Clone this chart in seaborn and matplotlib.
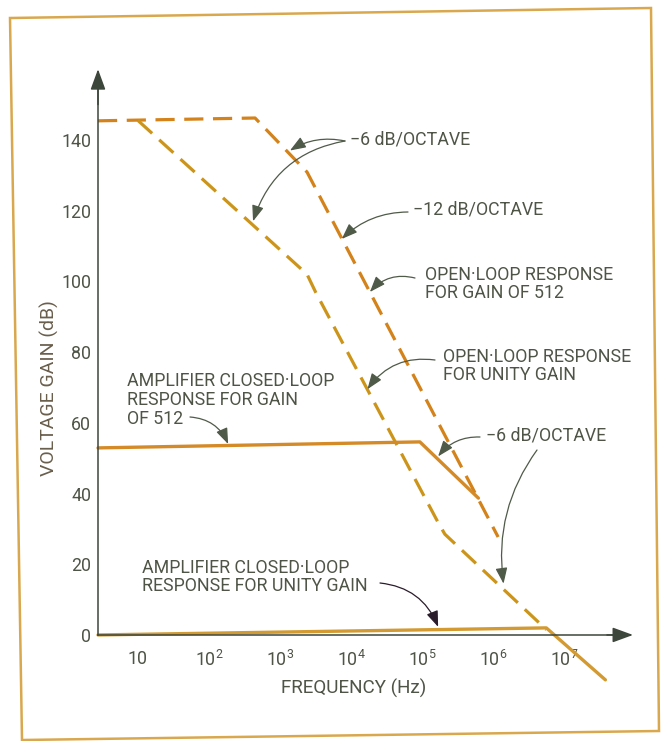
import numpy as np
import pandas as pd
import matplotlib.pyplot as plt
import seaborn as sns
from matplotlib.patches import Polygon

# open-loop response for gain of 512 (upper dashed)
ol512_freq = [2.74, 445, 2400, 1.175e6]
ol512_db = [145.4, 146.2, 130.9, 27.7]

# open-loop response for unity gain (lower dashed)
olu_freq = [10, 2400, 3160, 1.66e5, 2.09e5, 5.62e6]
olu_db = [145.5, 102.0, 97.0, 32.0, 28.5, 1.5]

# amplifier closed-loop response for gain of 512
cl512_freq = [2.74, 9.3e4, 6.2e5]
cl512_db = [52.9, 54.6, 38.7]

# amplifier closed-loop response for unity gain
clu_freq = [2.74, 5.6e6, 3.8e7]
clu_db = [0.0, 2.0, -12.7]

y_ticks = [0, 20, 40, 60, 80, 100, 120, 140]
x_ticks = [10, 1e2, 1e3, 1e4, 1e5, 1e6, 1e7]
x_labels = ['10', r'$\mathregular{10^{2}}$', r'$\mathregular{10^{3}}$', r'$\mathregular{10^{4}}$',
            r'$\mathregular{10^{5}}$', r'$\mathregular{10^{6}}$', r'$\mathregular{10^{7}}$']

sns.set_style('white')
plt.rcParams['font.family'] = ['Roboto', 'DejaVu Sans']
plt.rcParams['font.size'] = 12

W, H = 664, 741
text_c = '#4e5446'
axis_c = '#3d463a'
arrow_c = '#4f5a48'
fs = 12.8


def fpos(px, py):
    return (px / W, 1 - py / H)


fig = plt.figure(figsize=(W / 100, H / 100), dpi=100)
fig.patch.set_facecolor('white')

# gold frame of the printed figure
fig.add_artist(Polygon([fpos(10, 18), fpos(651, 8), fpos(659, 731), fpos(22, 740)],
                       closed=True, fill=False, edgecolor='#d9a84e', lw=1.8,
                       transform=fig.transFigure))

ax = fig.add_axes([98 / W, 1 - 688 / H, (633 - 98) / W, (688 - 69.2) / H])
ax.set_facecolor('none')

x0, x1 = 2.74, 9.3e7
ax.set_xscale('log')
ax.set_xlim(x0, x1)
ax.set_ylim(-15, 160)

dash = (0, (6, 3))
sns.lineplot(x=ol512_freq, y=ol512_db, ax=ax, color='#d4821a', lw=2.3, linestyle=dash,
             sort=False, estimator=None, clip_on=False)
sns.lineplot(x=olu_freq, y=olu_db, ax=ax, color='#cc951a', lw=2.3, linestyle=dash,
             sort=False, estimator=None, clip_on=False)
sns.lineplot(x=cl512_freq, y=cl512_db, ax=ax, color='#d48a26', lw=2.4,
             sort=False, estimator=None, clip_on=False)
sns.lineplot(x=clu_freq, y=clu_db, ax=ax, color='#d29a30', lw=2.4,
             sort=False, estimator=None, clip_on=False)

# axes with arrowheads
for s in ['top', 'right']:
    ax.spines[s].set_visible(False)
ax.spines['bottom'].set_position(('data', 0))
ax.spines['bottom'].set_bounds(x0, 8.0e7)
ax.spines['left'].set_bounds(0, 155)
for s in ['bottom', 'left']:
    ax.spines[s].set_color(axis_c)
    ax.spines[s].set_linewidth(1.1)
ax.annotate('', xy=(x1, 0), xytext=(4e7, 0),
            arrowprops=dict(arrowstyle='-|>,head_length=0.9,head_width=0.33', color=axis_c,
                            lw=1.1, shrinkA=0, shrinkB=0, mutation_scale=14),
            annotation_clip=False)
ax.annotate('', xy=(x0, 160), xytext=(x0, 150),
            arrowprops=dict(arrowstyle='-|>,head_length=0.9,head_width=0.33', color=axis_c,
                            lw=1.1, shrinkA=0, shrinkB=0, mutation_scale=14),
            annotation_clip=False)

ax.set_yticks(y_ticks)
ax.set_yticklabels([str(v) for v in y_ticks])
ax.set_xticks(x_ticks)
ax.set_xticklabels(x_labels)
ax.xaxis.set_minor_locator(plt.NullLocator())
ax.tick_params(axis='y', direction='in', length=6, width=1.0, color=axis_c,
               labelcolor=text_c, labelsize=fs, pad=5)
ax.tick_params(axis='x', direction='in', length=6, width=1.0, color='#b07a30',
               labelcolor=text_c, labelsize=fs, pad=11)
ax.set_xlabel('')
ax.set_ylabel('')

fig.text(*fpos(354, 688), 'FREQUENCY (Hz)', ha='center', va='center', color=text_c,
         fontsize=13.6)
fig.text(*fpos(49, 388), 'VOLTAGE GAIN (dB)', ha='center', va='center', rotation=90,
         color='#6a5e4c', fontsize=14)

# annotations
notes = [
    ('\u22126 dB/OCTAVE', 350, 140),
    ('\u221212 dB/OCTAVE', 413, 210),
    ('OPEN\u00b7LOOP RESPONSE\nFOR GAIN OF 512', 425, 284),
    ('OPEN\u00b7LOOP RESPONSE\nFOR UNITY GAIN', 443, 366),
    ('AMPLIFIER CLOSED\u00b7LOOP\nRESPONSE FOR GAIN\nOF 512', 127, 400),
    ('\u22126 dB/OCTAVE', 486, 435),
    ('AMPLIFIER CLOSED\u00b7LOOP\nRESPONSE FOR UNITY GAIN', 142, 577),
]
for txt, px, py in notes:
    fig.text(*fpos(px, py), txt, ha='left', va='center', color=text_c, fontsize=fs,
             linespacing=1.05)


def arrow(xy, start, rad, color=arrow_c):
    ax.annotate('', xy=xy, xycoords='data', xytext=fpos(*start), textcoords='figure fraction',
                arrowprops=dict(arrowstyle='-|>,head_length=0.8,head_width=0.3', color=color,
                                lw=0.9, connectionstyle=f'arc3,rad={rad}',
                                shrinkA=0, shrinkB=0, mutation_scale=12),
                annotation_clip=False)


arrow((1380, 137), (345, 141), 0.2)
arrow((417, 117), (345, 141), 0.3)
arrow((7400, 112), (408, 212), 0.2)
arrow((1.84e4, 97), (415, 278), 0.3)
arrow((1.7e4, 69.5), (435, 360), 0.3)
arrow((186, 54), (190, 417), -0.3)
arrow((1.68e5, 50.5), (480, 437), 0.25)
arrow((1.4e6, 14.5), (537, 450), 0.2)
arrow((1.68e5, 2.3), (380, 583), -0.3, color='#2a1c2a')

plt.savefig('out.png', dpi=100)
